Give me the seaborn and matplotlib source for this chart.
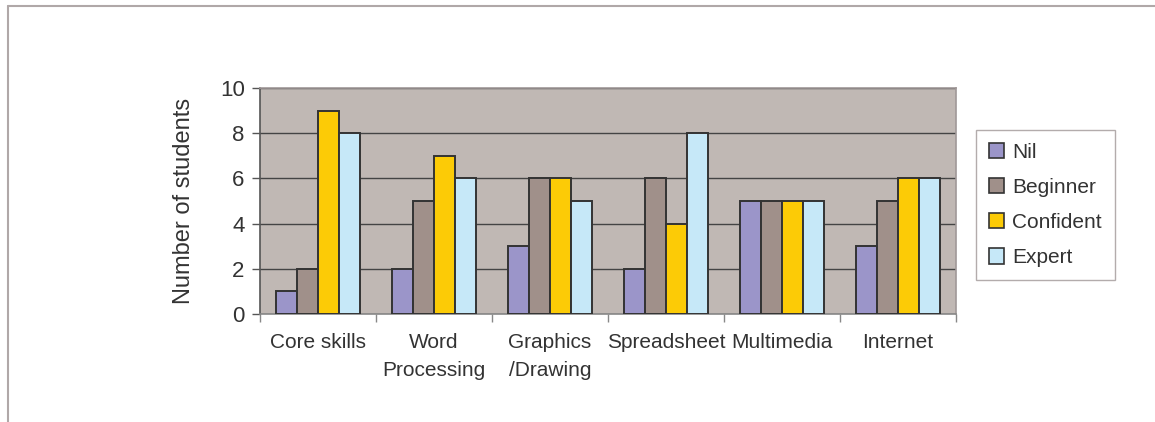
import matplotlib
matplotlib.use("Agg")
import matplotlib.pyplot as plt
from matplotlib.lines import Line2D
from matplotlib.patches import Patch
import seaborn as sns
import pandas as pd
import numpy as np

# Survey results: self-rated ICT skill level per area
categories = ["Core skills", "Word\nProcessing", "Graphics\n/Drawing",
              "Spreadsheet", "Multimedia", "Internet"]
levels = ["Nil", "Beginner", "Confident", "Expert"]
nil = [1, 2, 3, 2, 5, 3]
beginner = [2, 5, 6, 6, 5, 5]
confident = [9, 7, 6, 4, 5, 6]
expert = [8, 6, 5, 8, 5, 6]
colors = ["#9B95C9", "#A0908A", "#FCCB06", "#C6E8F8"]

rows = []
for lvl, vals in zip(levels, [nil, beginner, confident, expert]):
    for cat, v in zip(categories, vals):
        rows.append({"area": cat, "level": lvl, "students": v})
df = pd.DataFrame(rows)

sns.set_theme(style="white")
plt.rcParams["font.family"] = ["Liberation Sans", "DejaVu Sans"]

fig = plt.figure(figsize=(11.55, 4.22), dpi=100)
ax = fig.add_axes([260 / 1155, 1 - 314 / 422, 696 / 1155, 226 / 422])

sns.barplot(data=df, x="area", y="students", hue="level", order=categories,
            hue_order=levels, palette=colors, saturation=1, width=0.72,
            edgecolor="#333333", linewidth=1.4, ax=ax, legend=False, zorder=3)

ax.set_facecolor("#C0B8B4")
ax.set_ylim(0, 10)
ax.set_xlim(-0.5, len(categories) - 0.5)
ax.set_yticks(range(0, 11, 2))
ax.yaxis.grid(True, color="#444444", linewidth=1.0, zorder=1)
ax.set_axisbelow(True)

ax.set_xlabel("")
ax.set_ylabel("Number of students", fontsize=17, color="#333333", labelpad=18)

ax.tick_params(axis="y", labelsize=16, labelcolor="#333333", length=6,
               width=1, color="#555555", left=True, pad=5)
ax.tick_params(axis="x", which="major", length=0, labelsize=15,
               labelcolor="#333333", pad=14)
for lab in ax.get_xticklabels():
    lab.set_linespacing(1.6)
ax.set_xticks(np.arange(-0.5, len(categories), 1.0), minor=True)
ax.tick_params(axis="x", which="minor", bottom=True, length=6, width=1,
               color="#888888")

ax.spines["left"].set_color("#555555")
ax.spines["bottom"].set_color("#888888")
ax.spines["top"].set_color("#A09898")
ax.spines["right"].set_color("#A09898")
for s in ax.spines.values():
    s.set_linewidth(1.2)

handles = [Patch(facecolor=c, edgecolor="#333333", linewidth=1.2) for c in colors]
leg = fig.legend(handles, levels, loc="upper left",
                 bbox_to_anchor=(976 / 1155, 1 - 130 / 422),
                 fontsize=15, frameon=True, fancybox=False,
                 handlelength=0.75, handleheight=0.75, handletextpad=0.4,
                 labelspacing=0.78, borderpad=0.6, borderaxespad=0)
leg.get_frame().set_edgecolor("#A09898")
leg.get_frame().set_linewidth(1.0)
for t in leg.get_texts():
    t.set_color("#333333")

# outer chart frame
fig.add_artist(Line2D([8 / 1155, 1.0], [1 - 6 / 422, 1 - 6 / 422],
                      transform=fig.transFigure, color="#B0A8A8", linewidth=1.5))
fig.add_artist(Line2D([8 / 1155, 8 / 1155], [0.0, 1 - 6 / 422],
                      transform=fig.transFigure, color="#B0A8A8", linewidth=1.5))

fig.savefig("out.png", dpi=100, facecolor="white")
